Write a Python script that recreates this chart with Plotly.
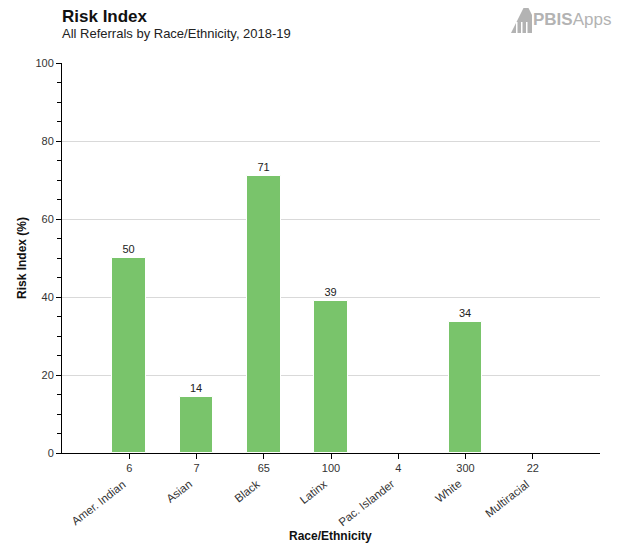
import plotly.graph_objects as go

categories = ["Amer. Indian", "Asian", "Black", "Latinx", "Pac. Islander", "White", "Multiracial"]
counts = ["6", "7", "65", "100", "4", "300", "22"]
risk_index = [50, 14.4, 71, 39.1, None, 33.7, None]
value_labels = ["50", "14", "71", "39", "", "34", ""]

OFF = 8  # page body margin
W, H = 621 - OFF, 543 - OFF
L, R, T, B = 62 - OFF, 21, 63 - OFF, 90
pw, ph = W - L - R, H - T - B

def px(x):
    return (x - OFF - L) / pw

def py(y):
    return (H - B - (y - OFF)) / ph

xs = list(range(len(categories)))

fig = go.Figure()
fig.add_trace(go.Bar(
    x=xs, y=risk_index, width=0.5,
    marker=dict(color="#79c46b", line=dict(color="#ffffff", width=1)),
    text=value_labels, textposition="outside", cliponaxis=False,
    textfont=dict(family="Liberation Sans, Arial", size=11, color="#222222"),
    hoverinfo="skip",
))

font = "Liberation Sans, Arial, sans-serif"
annotations = [
    dict(text="<b>Risk Index</b>", x=px(60), y=py(17), xref="paper", yref="paper",
         xanchor="left", yanchor="middle", showarrow=False,
         font=dict(family=font, size=17, color="#111111")),
    dict(text="All Referrals by Race/Ethnicity, 2018-19", x=px(60), y=py(33), xref="paper", yref="paper",
         xanchor="left", yanchor="middle", showarrow=False,
         font=dict(family=font, size=13, color="#222222")),
    dict(text="<b>PBIS</b>Apps", x=px(531), y=py(20), xref="paper", yref="paper",
         xanchor="left", yanchor="middle", showarrow=False,
         font=dict(family=font, size=17, color="#b3b3b3")),
    dict(text="<b>Risk Index (%)</b>", x=px(22), y=0.5, xref="paper", yref="paper",
         xanchor="center", yanchor="middle", textangle=-90, showarrow=False,
         font=dict(family=font, size=12, color="#111111")),
    dict(text="<b>Race/Ethnicity</b>", x=px(330), y=py(536), xref="paper", yref="paper",
         xanchor="center", yanchor="middle", showarrow=False,
         font=dict(family=font, size=12, color="#111111")),
]
for i, name in enumerate(categories):
    annotations.append(dict(
        text=name, x=i, y=py(475), xref="x", yref="paper",
        xanchor="right", yanchor="top", textangle=-38, showarrow=False, xshift=1,
        font=dict(family=font, size=11.5, color="#333333")))

shapes = [
    dict(type="path", xref="paper", yref="paper",
         path=(f"M {px(511)},{py(33)} L {px(526)},{py(3)} L {px(532)},{py(15)} "
               f"L {px(532)},{py(33)} Z"),
         fillcolor="#b3b3b3", line=dict(width=0)),
]
for xx in (516, 521, 526):
    shapes.append(dict(type="rect", xref="paper", yref="paper",
                       x0=px(xx), x1=px(xx + 1.5), y0=py(33), y1=py(22),
                       fillcolor="#ffffff", line=dict(width=0)))

fig.update_layout(
    width=W, height=H,
    margin=dict(l=L, r=R, t=T, b=B),
    paper_bgcolor="white", plot_bgcolor="white",
    showlegend=False, bargap=0,
    font=dict(family=font, size=11, color="#333333"),
    annotations=annotations, shapes=shapes,
    xaxis=dict(range=[-1, 7], tickvals=xs, ticktext=counts, showline=True, linecolor="#000000",
               linewidth=1, ticks="outside", ticklen=5, tickcolor="#000000", showgrid=False,
               zeroline=False, tickfont=dict(family=font, size=11, color="#333333"), fixedrange=True),
    yaxis=dict(range=[0, 100], dtick=20, showline=True, linecolor="#000000", linewidth=1,
               ticks="outside", ticklen=5, tickcolor="#000000", showgrid=True, gridcolor="#d9d9d9",
               zeroline=False, tickfont=dict(family=font, size=11, color="#333333"),
               minor=dict(dtick=5, ticks="outside", ticklen=4, tickcolor="#000000", showgrid=False)),
)

fig.write_html("out.html")
